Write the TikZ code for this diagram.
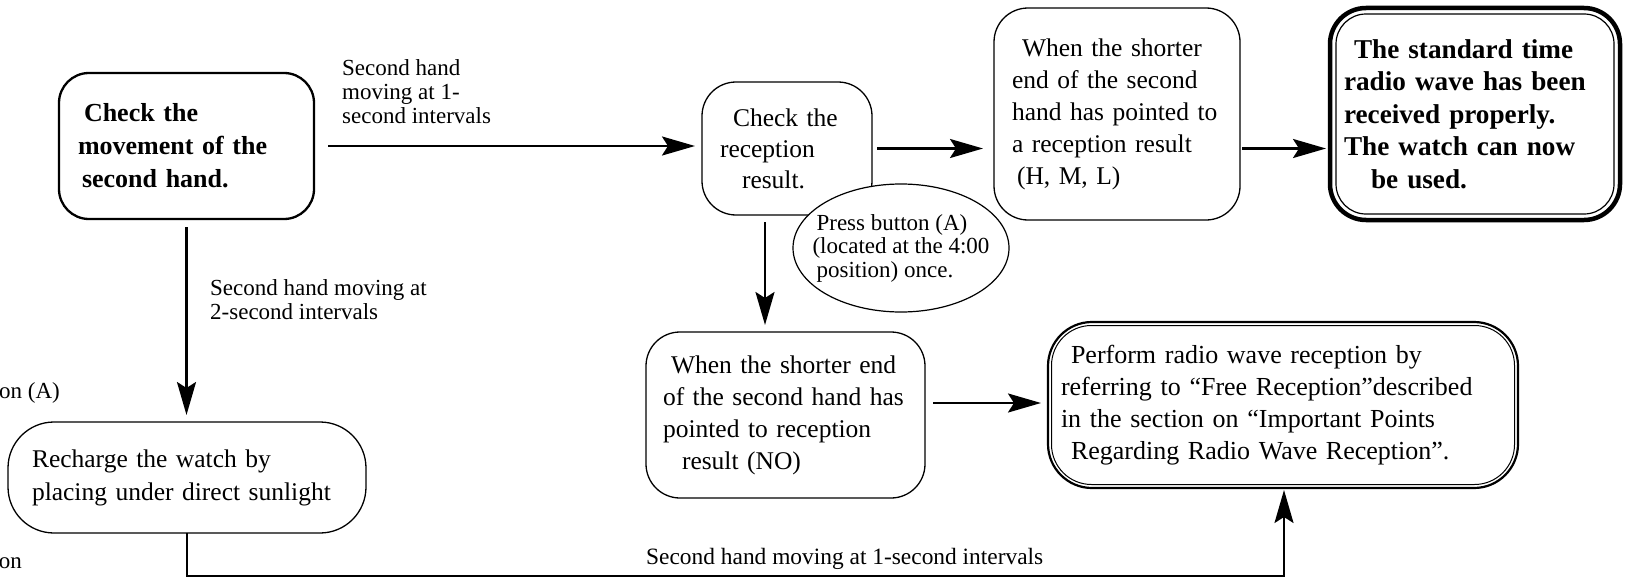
\documentclass[tikz,border=0pt]{standalone}
\usepackage{fontspec}
\setmainfont{Liberation Serif}
\usetikzlibrary{arrows.meta,shapes.geometric,calc}
\begin{document}
\begin{tikzpicture}[x=1pt,y=-1pt,
  bx/.style={draw, line width=1.3pt, rounded corners=#1, inner sep=0pt, outer sep=0pt, align=left, font=\fontsize{25.5}{32}\selectfont},
  bx/.default=32pt,
  bold/.style={font=\fontsize{26}{33}\selectfont\bfseries},
  lbl/.style={inner sep=0pt, align=left, font=\fontsize{23}{24}\selectfont},
  arr/.style={line width=2.5pt, -{Stealth[length=33pt,width=19pt,inset=6pt]}},
]
\useasboundingbox (0,0) rectangle (1627,578);

% boxes
\node[bx=30pt, line width=2.3pt, bold, minimum width=255pt, minimum height=146pt, text width=217pt] (b1) at (186.5,146)
  {\hspace{6pt}Check the\\movement of the\\\hspace{4pt}second hand.};
\node[bx=34pt, minimum width=170pt, minimum height=133pt, text width=134pt, font=\fontsize{25.5}{31}\selectfont] (b2) at (787,148.5)
  {\hspace{13pt}Check the\\reception\\\hspace{22pt}result.};
\node[bx=34pt, minimum width=246pt, minimum height=212pt, text width=210pt] (b3) at (1117,114)
  {\hspace{10pt}When the shorter\\end of the second\\hand has pointed to\\a reception result\\\hspace{5pt}(H, M, L)};
\node[bx=36pt, line width=4.5pt, bold, font=\fontsize{27.2}{32.5}\selectfont\bfseries, minimum width=290pt, minimum height=212pt, text width=262pt] (b4) at (1475,114)
  {\hspace{10pt}The standard time\\radio wave has been\\received properly.\\The watch can now\\\hspace{27pt}be used.};
\draw[line width=1.2pt, rounded corners=30pt] ($(b4.north west)+(6,6)$) rectangle ($(b4.south east)+(-6,-6)$);

\node[bx=34pt, minimum width=279pt, minimum height=166pt, text width=245pt] (b5) at (785.5,415)
  {\hspace{8pt}When the shorter end\\of the second hand has\\pointed to reception\\\hspace{19pt}result (NO)};
\node[bx=44pt, line width=2.2pt, minimum width=470pt, minimum height=166pt, text width=444pt, font=\fontsize{26}{32}\selectfont] (b6) at (1283,405)
  {\hspace{10pt}Perform radio wave reception by\\referring to “Free Reception”described\\in the section on “Important Points\\\hspace{10pt}Regarding Radio Wave Reception”.};
\draw[line width=1pt, rounded corners=40pt] ($(b6.north west)+(3.5,3.5)$) rectangle ($(b6.south east)+(-3.5,-3.5)$);
\node[bx=46pt, minimum width=358pt, minimum height=111pt, text width=310pt, font=\fontsize{25.5}{33}\selectfont] (b7) at (187,477.5)
  {Recharge the watch by\\placing under direct sunlight};

% ellipse
\node[ellipse, draw, fill=white, line width=1.2pt, minimum width=216pt, minimum height=128pt] (el) at (901,248) {};
\node[inner sep=0pt, align=left, font=\fontsize{23}{23.5}\selectfont] (elt) at (el.center)
  {\hspace{4pt}Press button (A)\\(located at the 4:00\\\hspace{4pt}position) once.};

% labels
\node[lbl, anchor=west] (l1) at (342,92) {Second hand\\moving at 1-\\second intervals};
\node[lbl, anchor=west] (l2) at (210,299.5) {Second hand moving at\\2-second intervals};
\node[lbl, anchor=west, font=\fontsize{23.4}{24}\selectfont] (l3) at (646,559) {Second hand moving at 1-second intervals};
\node[lbl, anchor=east] (l4) at (60,393) {on (A)};
\node[lbl, anchor=east] (l5) at (22,563) {on};

% connectors
\draw[arr, shorten <=14pt, shorten >=7pt] (b1.east) -- (b1.east -| b2.west);
\draw[arr, shorten <=5pt, shorten >=11pt] (b2.east) -- (b2.east -| b3.west);
\draw[arr, shorten <=2pt, shorten >=4pt] (b3.east |- b2.east) -- (b2.east -| b4.west);
\coordinate (c2) at ($(b2.south)+(-22,0)$);
\draw[arr, shorten <=7pt, shorten >=7pt] (c2) -- (c2 |- b5.north);
\coordinate (c5) at ($(b5.east)+(0,-12)$);
\draw[arr, shorten <=8pt, shorten >=7pt] (c5) -- (c5 -| b6.west);
\draw[arr, shorten <=8pt, shorten >=7pt] (b1.south) -- (b1.south |- b7.north);
\coordinate (bl) at (187,576);
\coordinate (br) at (1284,576);
\draw[line width=2pt, -{Stealth[length=33pt,width=19pt,inset=6pt]}, shorten >=2pt] (b7.south) -- (bl) -- (br) -- (br |- b6.south);
\end{tikzpicture}
\end{document}
